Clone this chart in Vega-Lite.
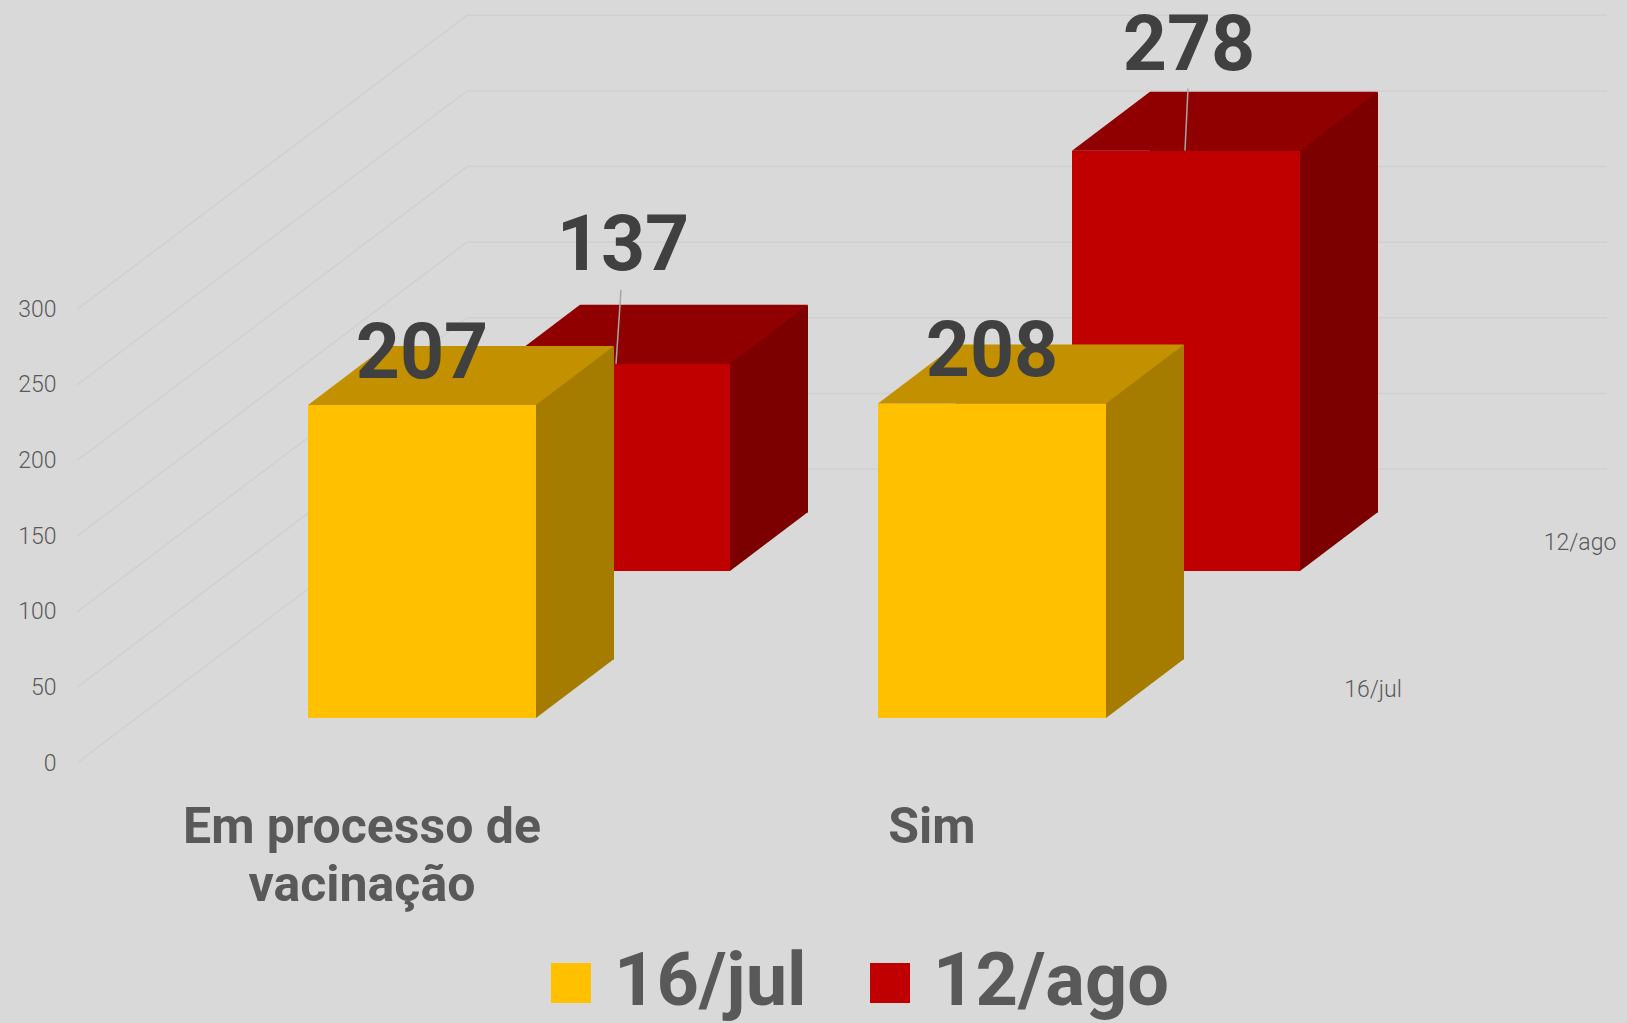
{
  "$schema": "https://vega.github.io/schema/vega-lite/v6.json",
  "width": 1140,
  "height": 763,
  "autosize": {"type": "none"},
  "padding": {"left": 77, "top": 0, "right": 410, "bottom": 260},
  "background": "#D9D9D9",
  "config": {
    "view": {"stroke": null},
    "font": "Roboto",
    "legend": {
      "orient": "none",
      "legendX": 457,
      "legendY": 946,
      "direction": "horizontal",
      "symbolType": "square",
      "symbolSize": 1600,
      "symbolStrokeWidth": 0,
      "labelFontSize": 74,
      "labelFont": "Roboto",
      "labelFontWeight": "bold",
      "labelColor": "#595959",
      "labelOffset": 6,
      "columnPadding": 46,
      "labelLimit": 400
    }
  },
  "datasets": {
    "dados": [
      {"categoria": "Em processo de vacinação", "serie": "16/jul", "valor": 207},
      {"categoria": "Em processo de vacinação", "serie": "12/ago", "valor": 137},
      {"categoria": "Sim", "serie": "16/jul", "valor": 208},
      {"categoria": "Sim", "serie": "12/ago", "valor": 278}
    ],
    "grade": [{"g": 0}, {"g": 50}, {"g": 100}, {"g": 150}, {"g": 200}, {"g": 250}, {"g": 300}],
    "profundidade": [{"serie": "16/jul"}, {"serie": "12/ago"}]
  },
  "data": {"name": "dados"},
  "layer": [
    {
      "data": {"name": "grade"},
      "mark": {"type": "rule", "color": "#D0D0D0", "strokeWidth": 1.5, "xOffset": 105, "x2Offset": 1245, "yOffset": -294, "y2Offset": -294},
      "encoding": {
        "x": {"datum": "Em processo de vacinação", "type": "nominal"},
        "x2": {"datum": "Em processo de vacinação"},
        "y": {
          "field": "g", "type": "quantitative",
          "scale": {"domain": [0, 504.6], "nice": false, "zero": true},
          "axis": {
            "values": [0, 50, 100, 150, 200, 250, 300],
            "title": null, "grid": false, "domain": false, "ticks": false,
            "labelFontSize": 23, "labelColor": "#595959", "labelPadding": 21, "labelFont": "Roboto", "labelFontWeight": 300
          }
        },
        "y2": {"field": "g"}
      }
    },
    {
      "data": {"name": "grade"},
      "mark": {"type": "rule", "color": "#D0D0D0", "strokeWidth": 1.5, "xOffset": -285, "x2Offset": 105, "y2Offset": -294},
      "encoding": {
        "x": {"datum": "Em processo de vacinação", "type": "nominal"},
        "x2": {"datum": "Em processo de vacinação"},
        "y": {"field": "g", "type": "quantitative"},
        "y2": {"field": "g"}
      }
    },
    {
      "transform": [{"filter": "datum.serie == '12/ago'"}],
      "mark": {"type": "bar", "color": "#7C0000", "width": {"band": 0.4}, "xOffset": 332, "yOffset": -250.5, "y2Offset": -250.5},
      "encoding": {
        "x": {
          "field": "categoria", "type": "nominal",
          "scale": {"domain": ["Em processo de vacinação", "Sim"], "paddingInner": 0, "paddingOuter": 0},
          "axis": {
            "title": null, "domain": false, "ticks": false, "labelAngle": 0, "labelAlign": "center",
            "labelFontSize": 50, "labelFontWeight": "bold", "labelColor": "#595959", "labelFont": "Roboto",
            "labelPadding": 79, "labelBaseline": "alphabetic", "labelLineHeight": 58, "labelLimit": 1000,
            "labelOverlap": false,
            "labelExpr": "datum.value == 'Em processo de vacinação' ? ['Em processo de', 'vacinação'] : datum.label"
          }
        },
        "y": {"field": "valor", "type": "quantitative"},
        "y2": {"datum": 0}
      }
    },
    {
      "transform": [{"filter": "datum.serie == '12/ago'"}],
      "mark": {"type": "bar", "width": {"band": 0.4}, "xOffset": 254, "yOffset": -192, "y2Offset": -192},
      "encoding": {
        "x": {"field": "categoria", "type": "nominal"},
        "y": {"field": "valor", "type": "quantitative"},
        "y2": {"datum": 0},
        "color": {
          "field": "serie", "type": "nominal",
          "scale": {"domain": ["16/jul", "12/ago"], "range": ["#FFC000", "#C00000"]},
          "legend": {"title": null}
        }
      }
    },
    {
      "transform": [{"filter": "datum.serie == '12/ago'"}],
      "mark": {"type": "point", "shape": "M-114,0L114,0L192,-59L-36,-59Z", "size": 4, "filled": true, "opacity": 1, "strokeWidth": 0, "color": "#900000", "xOffset": 254, "yOffset": -192},
      "encoding": {
        "x": {"field": "categoria", "type": "nominal"},
        "y": {"field": "valor", "type": "quantitative"}
      }
    },
    {
      "transform": [{"filter": "datum.serie == '12/ago'"}],
      "mark": {"type": "point", "shape": "M114,0L192,-59L114,-59Z", "size": 4, "filled": true, "opacity": 1, "strokeWidth": 0, "color": "#7C0000", "xOffset": 254, "yOffset": -192},
      "encoding": {
        "x": {"field": "categoria", "type": "nominal"},
        "y": {"datum": 0}
      }
    },
    {
      "transform": [{"filter": "datum.serie == '16/jul'"}],
      "mark": {"type": "bar", "color": "#A67C00", "width": {"band": 0.4}, "xOffset": 138, "yOffset": -103.5, "y2Offset": -103.5},
      "encoding": {
        "x": {"field": "categoria", "type": "nominal"},
        "y": {"field": "valor", "type": "quantitative"},
        "y2": {"datum": 0}
      }
    },
    {
      "transform": [{"filter": "datum.serie == '16/jul'"}],
      "mark": {"type": "bar", "width": {"band": 0.4}, "xOffset": 60, "yOffset": -45, "y2Offset": -45},
      "encoding": {
        "x": {"field": "categoria", "type": "nominal"},
        "y": {"field": "valor", "type": "quantitative"},
        "y2": {"datum": 0},
        "color": {"field": "serie", "type": "nominal"}
      }
    },
    {
      "transform": [{"filter": "datum.serie == '16/jul'"}],
      "mark": {"type": "point", "shape": "M-114,0L114,0L192,-59L-36,-59Z", "size": 4, "filled": true, "opacity": 1, "strokeWidth": 0, "color": "#C39100", "xOffset": 60, "yOffset": -45},
      "encoding": {
        "x": {"field": "categoria", "type": "nominal"},
        "y": {"field": "valor", "type": "quantitative"}
      }
    },
    {
      "transform": [{"filter": "datum.serie == '16/jul'"}],
      "mark": {"type": "point", "shape": "M114,0L192,-59L114,-59Z", "size": 4, "filled": true, "opacity": 1, "strokeWidth": 0, "color": "#A67C00", "xOffset": 60, "yOffset": -45},
      "encoding": {
        "x": {"field": "categoria", "type": "nominal"},
        "y": {"datum": 0}
      }
    },
    {
      "transform": [{"filter": "datum.serie == '12/ago' && datum.categoria != 'Sim'"}],
      "mark": {"type": "rule", "color": "#A6A6A6", "strokeWidth": 1.5, "xOffset": 254, "x2Offset": 259, "yOffset": -192, "y2Offset": -266},
      "encoding": {
        "x": {"field": "categoria", "type": "nominal"},
        "x2": {"field": "categoria"},
        "y": {"field": "valor", "type": "quantitative"},
        "y2": {"field": "valor"}
      }
    },
    {
      "transform": [{"filter": "datum.serie == '12/ago' && datum.categoria == 'Sim'"}],
      "mark": {"type": "rule", "color": "#A6A6A6", "strokeWidth": 1.5, "xOffset": 253, "x2Offset": 256, "yOffset": -192, "y2Offset": -254},
      "encoding": {
        "x": {"field": "categoria", "type": "nominal"},
        "x2": {"field": "categoria"},
        "y": {"field": "valor", "type": "quantitative"},
        "y2": {"field": "valor"}
      }
    },
    {
      "transform": [{"filter": "datum.serie == '16/jul'"}],
      "mark": {"type": "text", "font": "Roboto", "fontWeight": "bold", "fontSize": 77, "color": "#404040", "baseline": "alphabetic", "align": "center", "dx": 60, "dy": -72},
      "encoding": {
        "x": {"field": "categoria", "type": "nominal"},
        "y": {"field": "valor", "type": "quantitative"},
        "text": {"field": "valor", "type": "quantitative"}
      }
    },
    {
      "transform": [{"filter": "datum.serie == '12/ago' && datum.categoria != 'Sim'"}],
      "mark": {"type": "text", "font": "Roboto", "fontWeight": "bold", "fontSize": 77, "color": "#404040", "baseline": "alphabetic", "align": "center", "dx": 261, "dy": -286},
      "encoding": {
        "x": {"field": "categoria", "type": "nominal"},
        "y": {"field": "valor", "type": "quantitative"},
        "text": {"field": "valor", "type": "quantitative"}
      }
    },
    {
      "transform": [{"filter": "datum.serie == '12/ago' && datum.categoria == 'Sim'"}],
      "mark": {"type": "text", "font": "Roboto", "fontWeight": "bold", "fontSize": 77, "color": "#404040", "baseline": "alphabetic", "align": "center", "dx": 257, "dy": -273},
      "encoding": {
        "x": {"field": "categoria", "type": "nominal"},
        "y": {"field": "valor", "type": "quantitative"},
        "text": {"field": "valor", "type": "quantitative"}
      }
    },
    {
      "data": {"name": "profundidade"},
      "transform": [{"filter": "datum.serie == '16/jul'"}],
      "mark": {"type": "text", "font": "Roboto", "fontWeight": 300, "fontSize": 23, "color": "#595959", "baseline": "middle", "align": "center", "dx": 441, "dy": -73},
      "encoding": {
        "x": {"datum": "Sim", "type": "nominal"},
        "y": {"datum": 0, "type": "quantitative"},
        "text": {"field": "serie", "type": "nominal"}
      }
    },
    {
      "data": {"name": "profundidade"},
      "transform": [{"filter": "datum.serie == '12/ago'"}],
      "mark": {"type": "text", "font": "Roboto", "fontWeight": 300, "fontSize": 23, "color": "#595959", "baseline": "middle", "align": "center", "dx": 648, "dy": -220},
      "encoding": {
        "x": {"datum": "Sim", "type": "nominal"},
        "y": {"datum": 0, "type": "quantitative"},
        "text": {"field": "serie", "type": "nominal"}
      }
    }
  ]
}
